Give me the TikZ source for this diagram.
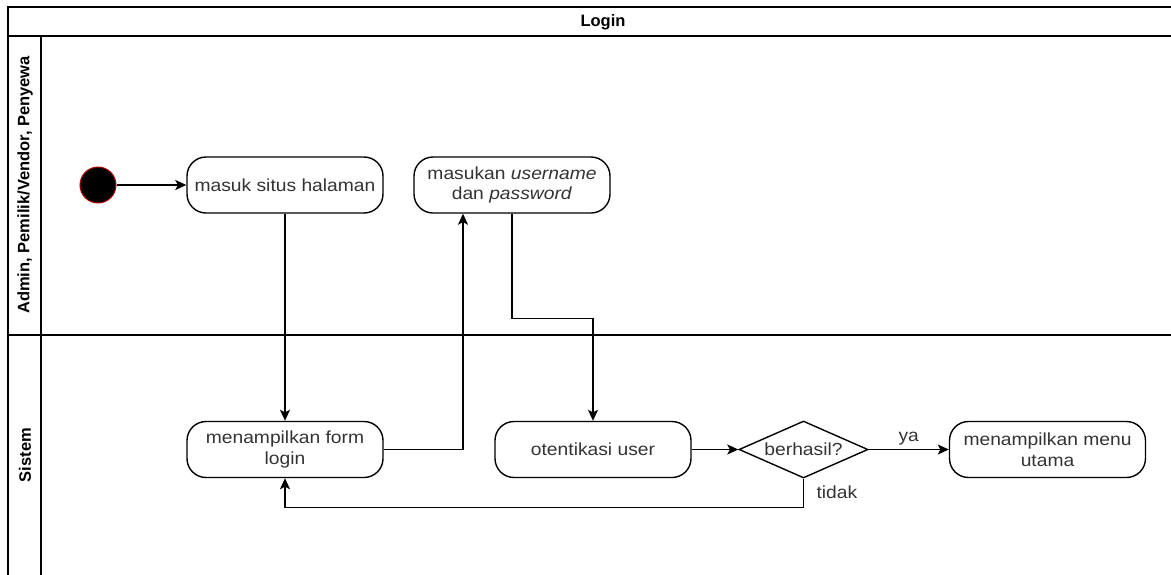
\documentclass[tikz,border=0pt]{standalone}
\usepackage{fontspec}
\setmainfont{Liberation Sans}
\newfontfamily\boxfont{Liberation Sans}[FakeStretch=1.1]
\usetikzlibrary{shapes.geometric,arrows.meta}

\definecolor{txt}{HTML}{333333}
\definecolor{startrim}{HTML}{B00000}

\tikzset{
  frame/.style={draw=black, line width=1.8pt},
  lanetitle/.style={font=\bfseries\fontsize{16.5}{19}\selectfont, text=black},
  act/.style={draw=black, line width=1.4pt, rounded corners=19pt,
    minimum width=196pt, minimum height=56pt, align=center, inner sep=2pt,
    font=\boxfont\fontsize{17.5}{20.5}\selectfont, text=txt},
  decision/.style={draw=black, line width=1.4pt, diamond, aspect=2.26,
    minimum width=129pt, minimum height=57pt, inner sep=0pt,
    font=\boxfont\fontsize{17.5}{20.5}\selectfont, text=txt},
  startnode/.style={circle, fill=black, draw=startrim, line width=1pt,
    minimum size=36pt, inner sep=0pt},
  flow/.style={draw=black, line width=1.4pt,
    -{Stealth[length=11pt, width=10pt, inset=2.5pt]}},
  edgelabel/.style={font=\boxfont\fontsize{17.5}{20.5}\selectfont, text=txt}
}

\begin{document}
\begin{tikzpicture}[x=1pt, y=-1pt]
  \useasboundingbox (0,0) rectangle (1171,574);
  \clip (0,0) rectangle (1171,574);

  % pool frame, header band and lanes
  \draw[frame] (1200,7) -- (8,7) -- (8,600);
  \draw[frame] (8,36) -- (1200,36);
  \draw[frame] (41,36) -- (41,600);
  \draw[frame] (8,335) -- (1200,335);

  \node[lanetitle] (pool) at (603,22) {Login};
  \node[lanetitle, rotate=90] (lane1) at (25,185) {Admin, Pemilik/Vendor, Penyewa};
  \node[lanetitle, rotate=90] (lane2) at (25,455) {Sistem};

  % activities
  \node[startnode] (start) at (98,185) {};
  \node[act] (masuk) at (285,185) {masuk situs halaman};
  \node[act] (input) at (512,185) {masukan \textit{username}\\dan \textit{password}};
  \node[act] (form) at (285,449.5) {menampilkan form\\login};
  \node[act] (auth) at (593,449.5) {otentikasi user};
  \node[decision] (ok) at (803.5,449.5) {berhasil?};
  \node[act] (menu) at (1047.5,449.5) {menampilkan menu\\utama};

  % control flow
  \draw[flow] (start) -- (masuk);
  \draw[flow] (masuk) -- (form);
  \draw[flow] (form.east) -| ([xshift=-49pt]input.south);
  \draw[flow] (input.south) -- ++(0,105) -| (auth.north);
  \draw[flow] (auth) -- (ok);
  \draw[flow] (ok.east) -- node[edgelabel, above, yshift=0pt] {ya} (menu.west);
  \draw[flow] (ok.south) -- ++(0,28.5) -| (form.south);
  \node[edgelabel, anchor=west] (no) at (813,492) {tidak};
\end{tikzpicture}
\end{document}
